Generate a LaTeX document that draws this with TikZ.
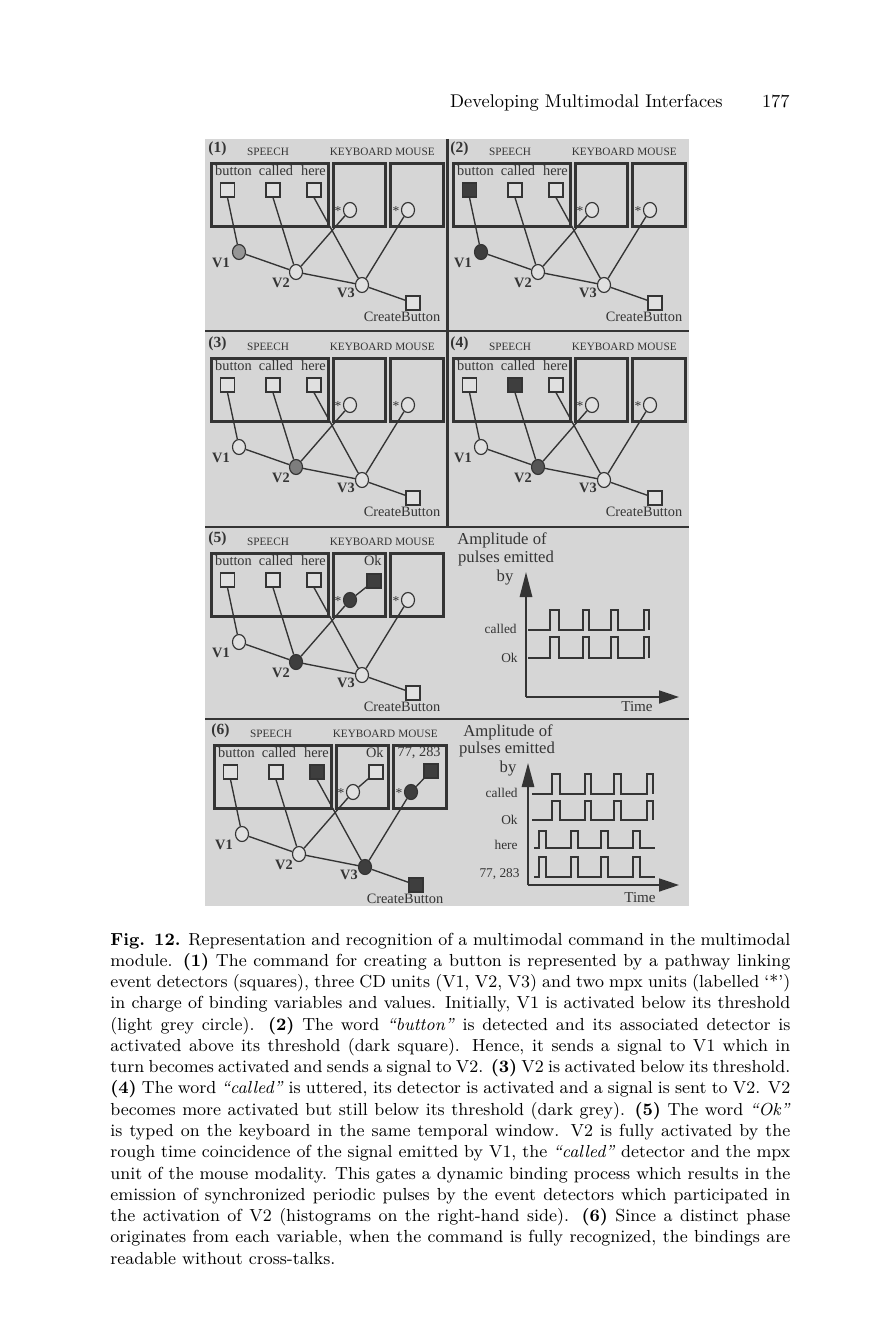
\documentclass[tikz,border=0pt]{standalone}
\usepackage{fontspec}
\newfontfamily\dfont{Liberation Serif}
\usetikzlibrary{shapes.geometric,arrows.meta}
\newlength\pxu \setlength\pxu{0.516pt}
\definecolor{bg}{RGB}{214,214,214}
\definecolor{inner}{RGB}{224,224,224}
\definecolor{ink}{RGB}{52,52,52}
\definecolor{dark}{RGB}{62,62,62}
\definecolor{lgrey}{RGB}{150,150,150}
\definecolor{mgrey}{RGB}{125,125,125}
\definecolor{dgrey}{RGB}{85,85,85}
\tikzset{
 modlbl/.style={font=\dfont\fontsize{5.8}{6}\selectfont, text=ink, inner sep=0},
 wordlbl/.style={font=\dfont\fontsize{7.4}{8}\selectfont, text=ink, inner sep=0},
 numlbl/.style={font=\dfont\bfseries\fontsize{8}{9}\selectfont, text=ink, inner sep=0},
 vlbl/.style={font=\dfont\bfseries\fontsize{7.4}{8}\selectfont, text=ink, inner sep=0},
 starlbl/.style={font=\dfont\fontsize{7}{8}\selectfont, text=ink, inner sep=0},
 chlbl/.style={font=\dfont\fontsize{6.9}{8}\selectfont, text=ink, inner sep=0, anchor=east},
 amplbl/.style={font=\dfont\fontsize{8.6}{9}\selectfont, text=ink, inner sep=0},
 modbox/.style={draw=ink, line width=1.4pt, inner sep=0, anchor=north west},
 sq/.style={draw=ink, line width=0.6pt, minimum size=14\pxu, inner sep=0, fill=inner},
 cir/.style={ellipse, draw=ink, line width=0.6pt, minimum width=13\pxu, minimum height=15\pxu, inner sep=0, fill=inner},
 conn/.style={draw=ink, line width=0.7pt},
 divider/.style={draw=ink, line width=1.5pt},
 pulse/.style={draw=ink, line width=0.75pt},
 axisline/.style={draw=ink, line width=0.9pt},
 captionline/.style={anchor=base west, inner sep=0, font=\fontsize{9}{11}\selectfont},
}
\newcommand\setfills[9]{\tikzset{fB/.style={fill=#1},fC/.style={fill=#2},fH/.style={fill=#3},fK/.style={fill=#4},fM/.style={fill=#5},fVa/.style={fill=#6},fVb/.style={fill=#7},fVc/.style={fill=#8},fCB/.style={fill=#9}}}
\newcommand\netpanel[4]{%
\begin{scope}[shift={(#2,#3)}]
\node[numlbl] (num#1) at (217.5,149) {(#4)};
\node[modlbl] (spl#1) at (268,152) {SPEECH};
\node[modlbl] (kbl#1) at (361,152) {KEYBOARD};
\node[modlbl] (msl#1) at (415,152) {MOUSE};
\node[modbox, minimum width=117\pxu, minimum height=63\pxu] (spb#1) at (210,162) {};
\node[modbox, minimum width=52\pxu, minimum height=63\pxu] (kbb#1) at (332,162) {};
\node[modbox, minimum width=53\pxu, minimum height=63\pxu] (msb#1) at (389,162) {};
\node[wordlbl] (bw#1) at (233.5,171) {button};
\node[wordlbl] (cw#1) at (276,171) {called};
\node[wordlbl] (hw#1) at (313.5,171) {here};
\node[cir,fVa] (va#1) at (239,252) {};
\node[cir,fVb] (vb#1) at (296,272) {};
\node[cir,fVc] (vc#1) at (362,285) {};
\node[sq,fCB] (cb#1) at (413,303) {};
\node[sq,fB] (b#1) at (227.5,190) {};
\node[sq,fC] (c#1) at (273,190) {};
\node[sq,fH] (h#1) at (314,190) {};
\node[cir,fK] (kc#1) at (350,210) {};
\node[cir,fM] (mc#1) at (408,210) {};
\draw[conn] (b#1.south) -- (va#1);
\draw[conn] (va#1) -- (vb#1);
\draw[conn] (c#1.south) -- (vb#1);
\draw[conn] (kc#1) -- (vb#1);
\draw[conn] (h#1.south) -- (vc#1);
\draw[conn] (mc#1) -- (vc#1);
\draw[conn] (vb#1) -- (vc#1);
\draw[conn] (vc#1) -- (cb#1);
\node[starlbl] (ks#1) at (338,211) {*};
\node[starlbl] (mss#1) at (396,211) {*};
\node[vlbl] (val#1) at (221,263) {V1};
\node[vlbl] (vbl#1) at (281,283) {V2};
\node[vlbl] (vcl#1) at (346,293) {V3};
\node[wordlbl] (cbl#1) at (402,317) {CreateButton};
\end{scope}}
\newcommand\pulsetrain[5]{% x0, base, high, pairs, xend
\draw[pulse] (#1,#2) \foreach \a/\b in {#4} { -- (\a,#2) -- (\a,#3) -- (\b,#3) -- (\b,#2) } -- (#5,#2);}
\begin{document}
\begin{tikzpicture}[x=0.516pt,y=-0.516pt]
\useasboundingbox (0,0) rectangle (882,1332);
\fill[white] (0,0) rectangle (882,1332);
% header
\node[anchor=base east, inner sep=0, font=\fontsize{9.5}{11}\selectfont] (title) at (723,108) {Developing Multimodal Interfaces};
\node[anchor=base east, inner sep=0, font=\fontsize{9.5}{11}\selectfont] (page) at (790,108) {177};
% figure background
\fill[bg] (205,139) rectangle (689,906);
\draw[divider] (205,331) -- (689,331);
\draw[divider] (205,527) -- (689,527);
\draw[divider] (205,719) -- (689,719);
\draw[divider] (447.5,139) -- (447.5,527);
% panel 1
\setfills{inner}{inner}{inner}{inner}{inner}{lgrey}{inner}{inner}{inner}
\netpanel{p1}{0}{0}{1}
% panel 2
\setfills{dark}{inner}{inner}{inner}{inner}{dark}{inner}{inner}{inner}
\netpanel{p2}{242}{0}{2}
% panel 3
\setfills{inner}{inner}{inner}{inner}{inner}{inner}{mgrey}{inner}{inner}
\netpanel{p3}{0}{195}{3}
% panel 4
\setfills{inner}{dark}{inner}{inner}{inner}{inner}{dgrey}{inner}{inner}
\netpanel{p4}{242}{195}{4}
% panel 5
\setfills{inner}{inner}{inner}{dark}{inner}{inner}{dark}{inner}{inner}
\netpanel{p5}{0}{390}{5}
\node[wordlbl, anchor=east] (okl5) at (382,561) {Ok};
\node[sq, fill=dark] (ok5) at (374,581) {};
\draw[conn] (ok5) -- (kcp5);
% panel 6
\setfills{inner}{inner}{dark}{inner}{dark}{inner}{inner}{dark}{dark}
\netpanel{p6}{3}{582}{6}
\node[wordlbl, anchor=east] (okl6) at (384,753) {Ok};
\node[sq] (ok6) at (376,772) {};
\draw[conn] (ok6) -- (kcp6);
\node[wordlbl, anchor=east] (nl6) at (441,753) {77, 283};
\node[sq, fill=dark] (n6) at (431,771) {};
\draw[conn] (n6) -- (mcp6);
% chart 5
\node[amplbl] (a5) at (502,540) {Amplitude of};
\node[amplbl] (pe5) at (506,558) {pulses emitted};
\node[amplbl] (by5) at (505,578) {by};
\coordinate (o5) at (526,697);
\coordinate (yt5) at (526,572);
\coordinate (xt5) at (679,697);
\draw[axisline, -{Triangle[length=12.9pt,width=6.4pt]}] (o5) -- (yt5);
\draw[axisline, -{Triangle[length=10.3pt,width=6.7pt]}] (o5) -- (xt5);
\node[amplbl, font=\dfont\fontsize{7.8}{9}\selectfont] (t5) at (637,707) {Time};
\node[chlbl] (cl5) at (517,629) {called};
\node[chlbl] (ol5) at (518,658) {Ok};
\pulsetrain{528}{630}{610}{550/559,583/589,611/618,644/649}{649}
\pulsetrain{528}{658}{637}{550/559,583/589,611/618,644/649}{649}
% chart 6
\node[amplbl] (a6) at (508,732) {Amplitude of};
\node[amplbl] (pe6) at (507,749) {pulses emitted};
\node[amplbl] (by6) at (508,769) {by};
\coordinate (o6) at (528,885);
\coordinate (yt6) at (528,763);
\coordinate (xt6) at (679,885);
\draw[axisline, -{Triangle[length=12.4pt,width=6.4pt]}] (o6) -- (yt6);
\draw[axisline, -{Triangle[length=10.3pt,width=6.7pt]}] (o6) -- (xt6);
\node[amplbl, font=\dfont\fontsize{7.8}{9}\selectfont] (t6) at (640,898) {Time};
\node[chlbl] (cl6) at (518,793) {called};
\node[chlbl] (ol6) at (518,820) {Ok};
\node[chlbl] (hl6) at (518,845) {here};
\node[chlbl] (nl6c) at (520,874) {77, 283};
\pulsetrain{532}{794}{774}{552/560,585/591,614/621,647/653}{653}
\pulsetrain{532}{820}{801}{552/560,585/591,614/621,647/653}{653}
\pulsetrain{534}{848}{831}{539/546,571/578,601/608,633/640}{655}
\pulsetrain{534}{877}{857}{539/546,571/578,601/608,633/640}{655}
% caption
\node[captionline] (c1) at (110,945.0) {\makebox[680\pxu][s]{\textbf{Fig. 12.} Representation and recognition of a multimodal command in the multimodal}};
\node[captionline] (c2) at (110,966.3) {\makebox[680\pxu][s]{module. \textbf{(1)} The command for creating a button is represented by a pathway linking}};
\node[captionline] (c3) at (110,987.5) {\makebox[680\pxu][s]{event detectors (squares), three CD units (V1, V2, V3) and two mpx units (labelled `*')}};
\node[captionline] (c4) at (110,1008.8) {\makebox[680\pxu][s]{in charge of binding variables and values. Initially, V1 is activated below its threshold}};
\node[captionline] (c5) at (110,1030.1) {\makebox[680\pxu][s]{(light grey circle). \textbf{(2)} The word \emph{``button''} is detected and its associated detector is}};
\node[captionline] (c6) at (110,1051.4) {\makebox[680\pxu][s]{activated above its threshold (dark square). Hence, it sends a signal to V1 which in}};
\node[captionline] (c7) at (110,1072.6) {\makebox[680\pxu][s]{turn becomes activated and sends a signal to V2. \textbf{(3)} V2 is activated below its threshold.}};
\node[captionline] (c8) at (110,1093.9) {\makebox[680\pxu][s]{\textbf{(4)} The word \emph{``called''} is uttered, its detector is activated and a signal is sent to V2. V2}};
\node[captionline] (c9) at (110,1115.2) {\makebox[680\pxu][s]{becomes more activated but still below its threshold (dark grey). \textbf{(5)} The word \emph{``Ok''}}};
\node[captionline] (c10) at (110,1136.4) {\makebox[680\pxu][s]{is typed on the keyboard in the same temporal window. V2 is fully activated by the}};
\node[captionline] (c11) at (110,1157.7) {\makebox[680\pxu][s]{rough time coincidence of the signal emitted by V1, the \emph{``called''} detector and the mpx}};
\node[captionline] (c12) at (110,1179.0) {\makebox[680\pxu][s]{unit of the mouse modality. This gates a dynamic binding process which results in the}};
\node[captionline] (c13) at (110,1200.3) {\makebox[680\pxu][s]{emission of synchronized periodic pulses by the event detectors which participated in}};
\node[captionline] (c14) at (110,1221.5) {\makebox[680\pxu][s]{the activation of V2 (histograms on the right-hand side). \textbf{(6)} Since a distinct phase}};
\node[captionline] (c15) at (110,1242.8) {\makebox[680\pxu][s]{originates from each variable, when the command is fully recognized, the bindings are}};
\node[captionline] (c16) at (110,1264.1) {readable without cross-talks.};
\end{tikzpicture}
\end{document}
